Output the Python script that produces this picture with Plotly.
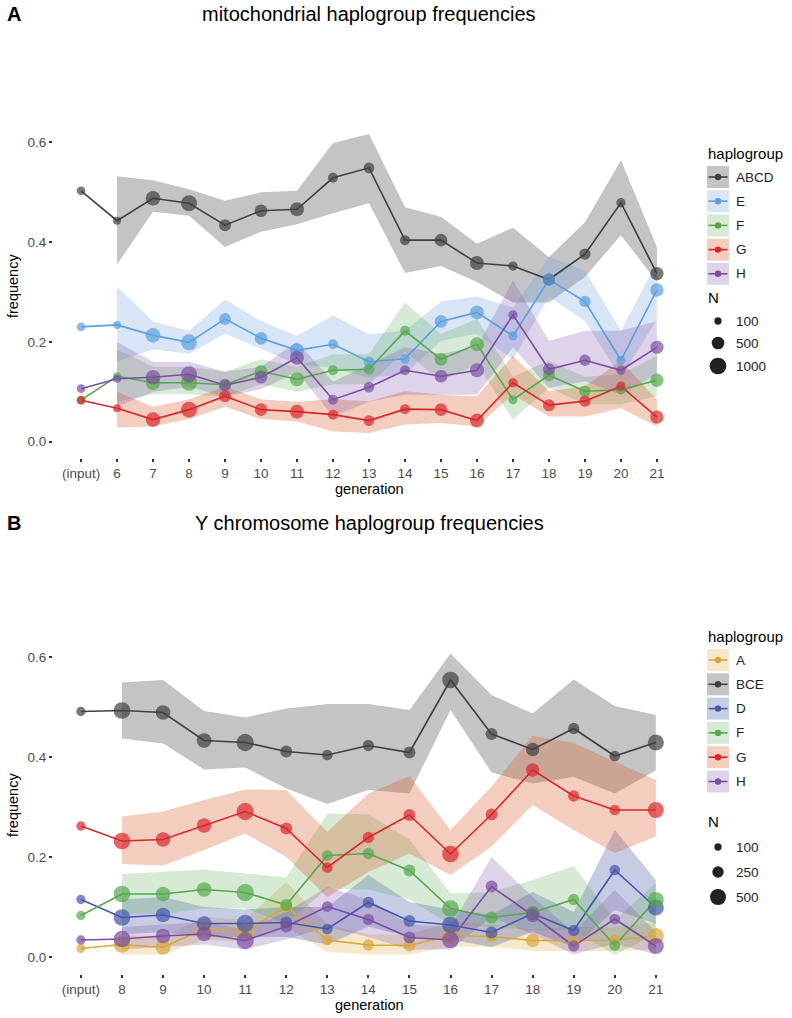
import plotly.graph_objects as go
import math

# ---------------- Panel A data (mitochondrial) ----------------
cats_A = ["(input)", "6", "7", "8", "9", "10", "11", "12", "13", "14", "15", "16", "17", "18", "19", "20", "21"]
N_A = [175, 135, 730, 900, 430, 500, 645, 263, 317, 263, 500, 645, 213, 433, 370, 213, 567]

ABCD = [0.503, 0.443, 0.488, 0.478, 0.434, 0.463, 0.466, 0.529, 0.549, 0.404, 0.404, 0.358, 0.352, 0.325, 0.376, 0.479, 0.337]
ABCD_hi = [0.532, 0.524, 0.506, 0.483, 0.500, 0.503, 0.599, 0.617, 0.470, 0.451, 0.397, 0.429, 0.370, 0.440, 0.564, 0.390]
ABCD_lo = [0.355, 0.461, 0.453, 0.390, 0.421, 0.436, 0.458, 0.478, 0.338, 0.352, 0.320, 0.279, 0.279, 0.330, 0.414, 0.320]

E = [0.230, 0.234, 0.213, 0.199, 0.246, 0.207, 0.183, 0.195, 0.160, 0.166, 0.241, 0.259, 0.212, 0.325, 0.281, 0.163, 0.304]
E_hi = [0.311, 0.241, 0.222, 0.285, 0.242, 0.212, 0.253, 0.215, 0.222, 0.281, 0.291, 0.269, 0.370, 0.343, 0.222, 0.360]
E_lo = [0.160, 0.185, 0.176, 0.216, 0.186, 0.155, 0.148, 0.128, 0.135, 0.202, 0.216, 0.165, 0.290, 0.242, 0.128, 0.245]

F = [0.083, 0.131, 0.118, 0.118, 0.114, 0.141, 0.125, 0.143, 0.145, 0.222, 0.165, 0.195, 0.084, 0.133, 0.101, 0.104, 0.123]
F_hi = [0.185, 0.150, 0.150, 0.140, 0.165, 0.150, 0.175, 0.175, 0.279, 0.216, 0.246, 0.130, 0.162, 0.130, 0.135, 0.172]
F_lo = [0.080, 0.095, 0.095, 0.090, 0.115, 0.100, 0.115, 0.115, 0.180, 0.121, 0.155, 0.044, 0.108, 0.075, 0.075, 0.091]

G = [0.083, 0.067, 0.044, 0.064, 0.091, 0.064, 0.060, 0.054, 0.042, 0.065, 0.064, 0.042, 0.118, 0.073, 0.081, 0.111, 0.049]
G_hi = [0.100, 0.070, 0.085, 0.110, 0.085, 0.080, 0.085, 0.081, 0.101, 0.094, 0.091, 0.172, 0.101, 0.111, 0.162, 0.084]
G_lo = [0.028, 0.030, 0.045, 0.070, 0.045, 0.040, 0.020, 0.017, 0.034, 0.037, 0.030, 0.094, 0.050, 0.050, 0.067, 0.030]

H = [0.106, 0.126, 0.129, 0.135, 0.113, 0.129, 0.168, 0.084, 0.109, 0.143, 0.131, 0.143, 0.254, 0.145, 0.163, 0.143, 0.189]
H_hi = [0.199, 0.160, 0.160, 0.140, 0.150, 0.200, 0.120, 0.155, 0.189, 0.176, 0.189, 0.323, 0.202, 0.222, 0.222, 0.242]
H_lo = [0.070, 0.100, 0.110, 0.090, 0.105, 0.140, 0.050, 0.080, 0.094, 0.094, 0.094, 0.189, 0.108, 0.121, 0.094, 0.135]

# ---------------- Panel B data (Y chromosome) ----------------
cats_B = ["(input)", "8", "9", "10", "11", "12", "13", "14", "15", "16", "17", "18", "19", "20", "21"]
N_B = [165, 545, 420, 420, 585, 278, 220, 246, 278, 545, 278, 345, 246, 220, 500]

A_B = [0.017, 0.025, 0.019, 0.057, 0.051, 0.101, 0.034, 0.024, 0.023, 0.043, 0.041, 0.033, 0.033, 0.034, 0.042]
A_B_hi = [0.045, 0.040, 0.080, 0.075, 0.150, 0.065, 0.045, 0.045, 0.070, 0.065, 0.055, 0.060, 0.060, 0.070]
A_B_lo = [0.005, 0.005, 0.035, 0.030, 0.060, 0.010, 0.005, 0.005, 0.020, 0.020, 0.012, 0.012, 0.012, 0.015]

BCE = [0.491, 0.493, 0.489, 0.433, 0.429, 0.411, 0.404, 0.423, 0.409, 0.554, 0.446, 0.415, 0.457, 0.402, 0.429]
BCE_hi = [0.549, 0.554, 0.492, 0.479, 0.497, 0.506, 0.506, 0.494, 0.607, 0.524, 0.487, 0.555, 0.502, 0.484]
BCE_lo = [0.437, 0.427, 0.375, 0.379, 0.337, 0.306, 0.334, 0.327, 0.494, 0.369, 0.347, 0.360, 0.327, 0.373]

D_B = [0.115, 0.079, 0.084, 0.067, 0.067, 0.069, 0.056, 0.109, 0.072, 0.064, 0.049, 0.087, 0.053, 0.174, 0.099]
D_B_hi = [0.115, 0.120, 0.100, 0.095, 0.100, 0.100, 0.164, 0.110, 0.095, 0.085, 0.130, 0.090, 0.254, 0.154]
D_B_lo = [0.045, 0.050, 0.040, 0.040, 0.040, 0.025, 0.061, 0.040, 0.035, 0.020, 0.050, 0.020, 0.094, 0.067]

F_B = [0.083, 0.126, 0.126, 0.135, 0.129, 0.104, 0.203, 0.207, 0.173, 0.097, 0.079, 0.089, 0.115, 0.023, 0.114]
F_B_hi = [0.166, 0.171, 0.175, 0.167, 0.159, 0.287, 0.285, 0.235, 0.127, 0.130, 0.154, 0.182, 0.074, 0.148]
F_B_lo = [0.086, 0.086, 0.097, 0.097, 0.067, 0.137, 0.135, 0.115, 0.065, 0.060, 0.054, 0.054, 0.004, 0.047]

G_B = [0.262, 0.232, 0.235, 0.263, 0.291, 0.257, 0.179, 0.239, 0.284, 0.206, 0.285, 0.374, 0.322, 0.294, 0.294]
G_B_hi = [0.281, 0.291, 0.314, 0.335, 0.334, 0.250, 0.327, 0.362, 0.254, 0.341, 0.442, 0.428, 0.391, 0.354]
G_B_lo = [0.186, 0.183, 0.214, 0.247, 0.200, 0.120, 0.170, 0.207, 0.164, 0.221, 0.304, 0.254, 0.208, 0.241]

H_B = [0.034, 0.036, 0.042, 0.046, 0.033, 0.061, 0.101, 0.075, 0.039, 0.034, 0.141, 0.083, 0.022, 0.076, 0.022]
H_B_hi = [0.060, 0.065, 0.070, 0.055, 0.090, 0.140, 0.115, 0.065, 0.060, 0.200, 0.120, 0.050, 0.134, 0.050]
H_B_lo = [0.015, 0.020, 0.025, 0.015, 0.035, 0.060, 0.040, 0.015, 0.015, 0.080, 0.045, 0.005, 0.027, 0.005]

legend_N_A = [100, 500, 1000]
legend_N_B = [100, 250, 500]

# ---------------- styling ----------------
W, Hgt = 792, 1018
FONT = "Helvetica, Liberation Sans, Arial, sans-serif"
STY = {
    "ABCD": ("#404040", "rgba(58,58,58,0.30)"),
    "BCE": ("#404040", "rgba(58,58,58,0.30)"),
    "E": ("#5b9fdc", "rgba(110,160,222,0.27)"),
    "F": ("#55a84f", "rgba(85,168,79,0.24)"),
    "G": ("#d8282c", "rgba(215,90,40,0.30)"),
    "H": ("#7a4ea3", "rgba(122,78,163,0.25)"),
    "D": ("#4656aa", "rgba(68,85,170,0.30)"),
    "A": ("#d8a63a", "rgba(215,165,55,0.26)"),
}


def size_fn(lo_n, hi_n, lo_d, hi_d):
    a = (hi_d - lo_d) / (math.sqrt(hi_n) - math.sqrt(lo_n))
    return lambda n: lo_d + a * (math.sqrt(n) - math.sqrt(lo_n))


size_A = size_fn(100, 1000, 7.3, 16.7)
size_B = size_fn(100, 500, 7.3, 16.0)

panelA = [("ABCD", ABCD, ABCD_hi, ABCD_lo), ("E", E, E_hi, E_lo), ("F", F, F_hi, F_lo),
          ("G", G, G_hi, G_lo), ("H", H, H_hi, H_lo)]
panelB = [("A", A_B, A_B_hi, A_B_lo), ("BCE", BCE, BCE_hi, BCE_lo), ("D", D_B, D_B_hi, D_B_lo),
          ("F", F_B, F_B_hi, F_B_lo), ("G", G_B, G_B_hi, G_B_lo), ("H", H_B, H_B_hi, H_B_lo)]

fig = go.Figure()


def add_panel(groups, cats, Ns, sfn, xa, ya):
    rc = cats[1:]
    for name, v, hi, lo in groups:
        fig.add_trace(go.Scatter(x=rc + rc[::-1], y=hi + lo[::-1], fill="toself",
                                 fillcolor=STY[name][1], line=dict(width=0), mode="lines",
                                 hoverinfo="skip", showlegend=False, xaxis=xa, yaxis=ya))
    for name, v, hi, lo in groups:
        fig.add_trace(go.Scatter(x=cats, y=v, mode="lines", line=dict(color=STY[name][0], width=1.6),
                                 showlegend=False, xaxis=xa, yaxis=ya))
    for name, v, hi, lo in groups:
        fig.add_trace(go.Scatter(x=cats, y=v, mode="markers",
                                 marker=dict(color=STY[name][0], size=[sfn(n) for n in Ns], line=dict(width=0)),
                                 showlegend=False, name=name, xaxis=xa, yaxis=ya))


add_panel(panelA, cats_A, N_A, size_A, "x", "y")
add_panel(panelB, cats_B, N_B, size_B, "x2", "y2")


def px(x):
    return x / W


def py(y):
    return 1 - y / Hgt


xl, xr = 53, 685
common_x = dict(type="category", showgrid=False, zeroline=False, showline=False, ticks="outside",
                ticklen=3, tickwidth=1.5, tickcolor="#333333", automargin=False,
                tickfont=dict(family=FONT, size=13.5, color="#4d4d4d"))
common_y = dict(showgrid=False, zeroline=False, showline=False, ticks="outside", ticklen=3,
                tickwidth=1.5, tickcolor="#333333", tickvals=[0, 0.2, 0.4, 0.6], automargin=False,
                ticktext=["0.0", "0.2", "0.4", "0.6"], tickfont=dict(family=FONT, size=13.5, color="#4d4d4d"))

fig.update_layout(
    width=W, height=Hgt, margin=dict(l=0, r=0, t=0, b=0, autoexpand=False),
    paper_bgcolor="white", plot_bgcolor="white", showlegend=False,
    xaxis=dict(common_x, domain=[px(xl), px(xr)], categoryarray=cats_A, categoryorder="array",
               range=[-0.78, 16.78], anchor="y"),
    yaxis=dict(common_y, domain=[py(458), py(115)], range=[-0.033, 0.655], anchor="x"),
    xaxis2=dict(common_x, domain=[px(xl), px(xr)], categoryarray=cats_B, categoryorder="array",
                range=[-0.68, 14.71], anchor="y2"),
    yaxis2=dict(common_y, domain=[py(974), py(636)], range=[-0.034, 0.642], anchor="x2"),
)

ann = []
shapes = []


def text(x, y, s, size, xanchor="left", bold=False, color="black", angle=0):
    ann.append(dict(x=px(x), y=py(y), xref="paper", yref="paper", text=("<b>%s</b>" % s) if bold else s,
                    showarrow=False, xanchor=xanchor, yanchor="middle", textangle=angle,
                    font=dict(family=FONT, size=size, color=color)))


# titles
text(5, 14, "A", 20, bold=True)
text(369, 14, "mitochondrial haplogroup frequencies", 20, xanchor="center")
text(369, 489, "generation", 14.5, xanchor="center")
text(13, 286, "frequency", 14.5, xanchor="center", angle=-90)

text(5, 523, "B", 20, bold=True)
text(369, 523, "Y chromosome haplogroup frequencies", 20, xanchor="center")
text(369, 1005, "generation", 14.5, xanchor="center")
text(13, 805, "frequency", 14.5, xanchor="center", angle=-90)


def legend(title_y, names, row0, step, n_title_y, n_vals, n_y, sfn):
    text(706, title_y, "haplogroup", 15)
    for i, nm in enumerate(names):
        yc = row0 + i * step
        line_c, fill_c = STY[nm]
        shapes.append(dict(type="rect", xref="paper", yref="paper", x0=px(707), x1=px(729),
                           y0=py(yc + 11), y1=py(yc - 11), fillcolor=fill_c, line=dict(width=0)))
        shapes.append(dict(type="line", xref="paper", yref="paper", x0=px(708.5), x1=px(727.5),
                           y0=py(yc), y1=py(yc), line=dict(color=line_c, width=1.6)))
        shapes.append(dict(type="circle", xref="paper", yref="paper", xsizemode="pixel", ysizemode="pixel",
                           xanchor=px(718), yanchor=py(yc), x0=-3.2, x1=3.2, y0=-3.2, y1=3.2,
                           fillcolor=line_c, line=dict(width=0)))
        text(734, yc, nm, 13.5, color="#222222")
    text(706, n_title_y, "N", 15)
    for nv, yc in zip(n_vals, n_y):
        r = sfn(nv) / 2
        shapes.append(dict(type="circle", xref="paper", yref="paper", xsizemode="pixel", ysizemode="pixel",
                           xanchor=px(718), yanchor=py(yc), x0=-r, x1=r, y0=-r, y1=r,
                           fillcolor="#222222", line=dict(width=0)))
        text(734, yc, str(nv), 13.5, color="#222222")


legend(153, ["ABCD", "E", "F", "G", "H"], 177, 24.2, 297, legend_N_A, [321, 343, 366], size_A)
legend(636, ["A", "BCE", "D", "F", "G", "H"], 660, 24.3, 821, legend_N_B, [847, 872, 897], size_B)

fig.update_layout(annotations=ann, shapes=shapes)
fig.write_html("out.html", config={"displayModeBar": False},
               post_script="document.body.style.margin='0px';document.body.style.padding='0px';")
